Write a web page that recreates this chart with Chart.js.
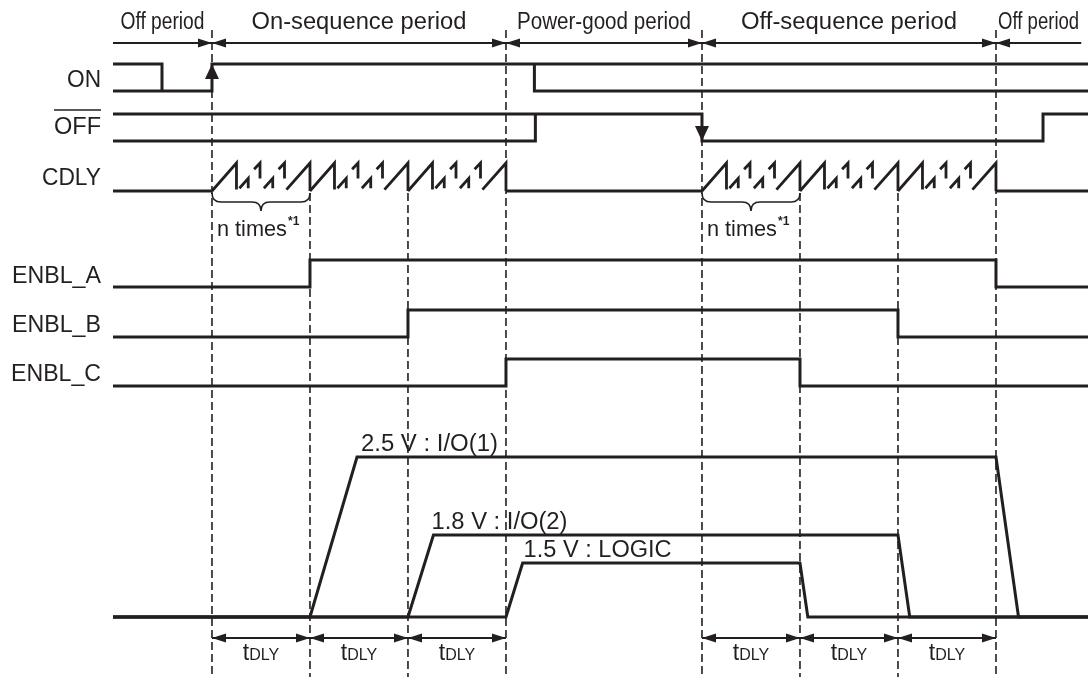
<!DOCTYPE html>
<html>
<head>
<meta charset="utf-8">
<script src="https://cdn.jsdelivr.net/npm/chart.js@4.4.1/dist/chart.umd.min.js"></script>
<style>
  html, body { margin: 0; padding: 0; background: #fff; }
  #wrap { width: 1088px; height: 677px; }
</style>
</head>
<body>
<div id="wrap"><canvas id="timing" width="1088" height="677"></canvas></div>
<script>
// time is in tDLY units, 0 = the moment ON is asserted
var periodNames = ['Off period', 'On-sequence period', 'Power-good period', 'Off-sequence period', 'Off period'];
var periodEdges = [-1.01, 0, 3, 5, 8, 8.87];
var delayMarks = [1, 2, 6, 7];
var delaySpans = [[0, 1], [1, 2], [2, 3], [5, 6], [6, 7], [7, 8]];

var signalNames = ['ON', 'OFF', 'CDLY', 'ENBL_A', 'ENBL_B', 'ENBL_C'];

// [time, level] polylines, level 0 = low, 1 = high
var onTraces = [
    [[-1.01, 1], [-0.51, 1], [-0.51, 0]],
    [[-1.01, 0], [0, 0], [0, 1], [8.94, 1]],
    [[3.29, 1], [3.29, 0], [8.94, 0]]
];
var offTraces = [
    [[-1.01, 0], [3.3, 0], [3.3, 1]],
    [[-1.01, 1], [5, 1], [5, 0], [8.48, 0], [8.48, 1], [8.94, 1]]
];
var cdlyFlat = [
    [[-1.01, 0], [0, 0]],
    [[3, 0], [5, 0]],
    [[8, 0], [8.94, 0]]
];
var cdlyBursts = [0, 5];
var cdlyPeriods = 3;
// one tDLY period of the CDLY ramp: full tooth, two broken teeth, full tooth
var cdlyPattern = [
    [[0, 0], [0.25, 1], [0.25, 0.05]],
    [[0.28, 0.1], [0.37, 0.45], [0.37, 0.1]],
    [[0.43, 0.78], [0.49, 1], [0.49, 0.45]],
    [[0.53, 0.1], [0.62, 0.45], [0.62, 0.1]],
    [[0.68, 0.78], [0.74, 1], [0.74, 0.45]],
    [[0.76, 0.05], [1, 1], [1, 0]]
];
var enblA = [[-1.01, 0], [1, 0], [1, 1], [8, 1], [8, 0], [8.94, 0]];
var enblB = [[-1.01, 0], [2, 0], [2, 1], [7, 1], [7, 0], [8.94, 0]];
var enblC = [[-1.01, 0], [3, 0], [3, 1], [6, 1], [6, 0], [8.94, 0]];

var railLabels = ['2.5 V : I/O(1)', '1.8 V : I/O(2)', '1.5 V : LOGIC'];
var railTraces = [
    [[-1.01, 0], [1, 0], [1.48, 1], [8, 1], [8.23, 0], [8.94, 0]],
    [[-1.01, 0], [2, 0], [2.26, 1], [7, 1], [7.12, 0], [8.94, 0]],
    [[-1.01, 0], [3, 0], [3.17, 1], [6, 1], [6.08, 0], [8.94, 0]]
];

// layout (canvas pixels)
var ink = '#231f20';
var font = '"Liberation Sans", Arial, Helvetica, sans-serif';
var fs = 23;
var xView = [-2.163, 8.939];
var rows = {
    ON: [91, 64], OFF: [141, 114], CDLY: [191, 163],
    ENBL_A: [287, 260], ENBL_B: [337, 310], ENBL_C: [386, 359]
};
var labelBase = { ON: 87, OFF: 134, CDLY: 185, ENBL_A: 283, ENBL_B: 332, ENBL_C: 381 };
var labelWidth = { ON: 34, OFF: 47, CDLY: 59, ENBL_A: 89, ENBL_B: 89, ENBL_C: 90 };
var railBase = 617;
var railTops = [457, 535, 563];
var railLabelX = [1.52, 2.24, 3.18];
var railLabelW = [137, 136, 148];
var periodW = [84, 215, 174, 216, 81];

function lane(points, low, high) {
    return points.map(function(p) { return { x: p[0], y: low - p[1] * (low - high) }; });
}

var datasets = [];
function addLine(data, extra) {
    var ds = {
        data: data, showLine: true, borderColor: ink, borderWidth: 3,
        pointRadius: 0, fill: false, tension: 0,
        borderCapStyle: 'butt', borderJoinStyle: 'miter'
    };
    for (var k in extra) ds[k] = extra[k];
    datasets.push(ds);
}

// dashed markers
periodEdges.slice(1, 5).forEach(function(t) {
    addLine([{ x: t, y: 30 }, { x: t, y: 677 }], { borderWidth: 1.6, borderDash: [8, 4] });
});
delayMarks.forEach(function(t) {
    addLine([{ x: t, y: 193 }, { x: t, y: 677 }], { borderWidth: 1.6, borderDash: [8, 4] });
});

onTraces.forEach(function(p) { addLine(lane(p, rows.ON[0], rows.ON[1])); });
offTraces.forEach(function(p) { addLine(lane(p, rows.OFF[0], rows.OFF[1])); });
cdlyFlat.forEach(function(p) { addLine(lane(p, rows.CDLY[0], rows.CDLY[1])); });
cdlyBursts.forEach(function(b) {
    for (var k = 0; k < cdlyPeriods; k++) {
        cdlyPattern.forEach(function(p) {
            var shifted = p.map(function(q) { return [q[0] + b + k, q[1]]; });
            addLine(lane(shifted, rows.CDLY[0], rows.CDLY[1]), { borderWidth: 2.8 });
        });
    }
});
addLine(lane(enblA, rows.ENBL_A[0], rows.ENBL_A[1]));
addLine(lane(enblB, rows.ENBL_B[0], rows.ENBL_B[1]));
addLine(lane(enblC, rows.ENBL_C[0], rows.ENBL_C[1]));
railTraces.forEach(function(p, i) { addLine(lane(p, railBase, railTops[i])); });

function head(ctx, x, y, dx, dy, len, half) {
    ctx.beginPath();
    ctx.moveTo(x, y);
    ctx.lineTo(x - dx * len - dy * half, y - dy * len - dx * half);
    ctx.lineTo(x - dx * len + dy * half, y - dy * len + dx * half);
    ctx.closePath();
    ctx.fill();
}

function text(ctx, str, x, y, size, align, width) {
    ctx.save();
    ctx.font = size + 'px ' + font;
    var w = ctx.measureText(str).width;
    var sx = width ? width / w : 1;
    var x0 = align === 'center' ? x - w * sx / 2 : align === 'right' ? x - w * sx : x;
    ctx.translate(x0, y);
    ctx.scale(sx, 1);
    ctx.textAlign = 'left';
    ctx.textBaseline = 'alphabetic';
    ctx.fillText(str, 0, 0);
    ctx.restore();
    return w * sx;
}

function span(ctx, x1, x2, y, left, right) {
    ctx.lineWidth = 1.8;
    ctx.beginPath();
    ctx.moveTo(x1, y);
    ctx.lineTo(x2, y);
    ctx.stroke();
    if (left) head(ctx, x1, y, -1, 0, 14, 4.5);
    if (right) head(ctx, x2, y, 1, 0, 14, 4.5);
}

var annotate = {
    id: 'annotate',
    afterDatasetsDraw: function(chart) {
        var ctx = chart.ctx, xs = chart.scales.x;
        var px = function(t) { return xs.getPixelForValue(t); };
        ctx.save();
        ctx.fillStyle = ink;
        ctx.strokeStyle = ink;

        // period header
        for (var i = 0; i < periodNames.length; i++) {
            var a = px(periodEdges[i]), b = px(periodEdges[i + 1]);
            span(ctx, a, b, 43, i > 0, i < periodNames.length - 1);
            text(ctx, periodNames[i], (a + b) / 2, 29, fs, 'center', periodW[i]);
        }

        // signal names
        signalNames.forEach(function(n) {
            text(ctx, n, 101, labelBase[n], fs, 'right', labelWidth[n]);
        });
        ctx.lineWidth = 1.6;
        ctx.beginPath();
        ctx.moveTo(54, 110);
        ctx.lineTo(101, 110);
        ctx.stroke();

        // ON / OFF edge arrows
        head(ctx, px(0), rows.ON[1], 0, -1, 15, 7);
        head(ctx, px(5), rows.OFF[0], 0, 1, 15, 7);

        // n times braces
        cdlyBursts.forEach(function(bt) {
            var x0 = px(bt), x1 = px(bt + 1), xm = (x0 + x1) / 2, y0 = 193, q = 9;
            ctx.lineWidth = 1.6;
            ctx.beginPath();
            ctx.moveTo(x0, y0);
            ctx.quadraticCurveTo(x0, y0 + q, x0 + q, y0 + q);
            ctx.lineTo(xm - q, y0 + q);
            ctx.quadraticCurveTo(xm, y0 + q, xm, y0 + 2 * q);
            ctx.quadraticCurveTo(xm, y0 + q, xm + q, y0 + q);
            ctx.lineTo(x1 - q, y0 + q);
            ctx.quadraticCurveTo(x1, y0 + q, x1, y0);
            ctx.stroke();
            var w = text(ctx, 'n times', x0 + 5, 236, 22, 'left', 70);
            ctx.font = 'bold 12px ' + font;
            ctx.fillText('*1', x0 + 6 + w, 225);
        });

        // rail labels
        railLabels.forEach(function(l, i) {
            text(ctx, l, px(railLabelX[i]), railTops[i] - 6, fs, 'left', railLabelW[i]);
        });

        // tDLY spans
        delaySpans.forEach(function(s) {
            var a = px(s[0]), b = px(s[1]);
            span(ctx, a, b, 638, true, true);
            ctx.font = '23px ' + font;
            var wt = ctx.measureText('t').width;
            ctx.font = '16px ' + font;
            var wd = ctx.measureText('DLY').width;
            var x0 = (a + b) / 2 - (wt + wd) / 2;
            ctx.font = '23px ' + font;
            ctx.fillText('t', x0, 660);
            ctx.font = '16px ' + font;
            ctx.fillText('DLY', x0 + wt, 660);
        });
        ctx.restore();
    }
};

new Chart(document.getElementById('timing').getContext('2d'), {
    type: 'scatter',
    data: { datasets: datasets },
    options: {
        responsive: false,
        animation: false,
        events: [],
        layout: { padding: 0 },
        plugins: { legend: { display: false }, tooltip: { enabled: false } },
        scales: {
            x: { type: 'linear', min: xView[0], max: xView[1], display: false },
            y: { type: 'linear', min: 0, max: 677, reverse: true, display: false }
        }
    },
    plugins: [annotate]
});
</script>
</body>
</html>
